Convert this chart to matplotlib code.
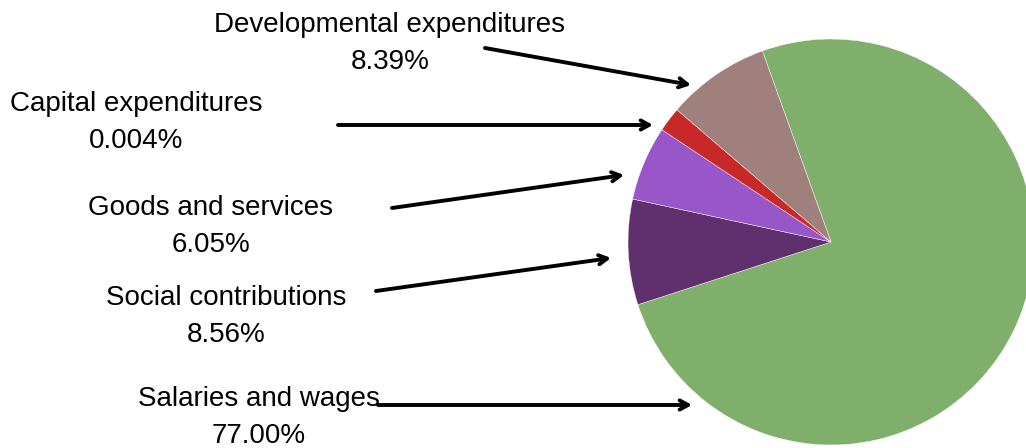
import matplotlib
matplotlib.use("Agg")
import matplotlib.pyplot as plt

# expenditure categories (clockwise from the top of the green slice)
categories = ["Salaries and wages", "Social contributions", "Goods and services",
              "Capital expenditures", "Developmental expenditures"]
pct_labels = ["77.00%", "8.56%", "6.05%", "0.004%", "8.39%"]
# slice sizes as drawn in the chart (capital slice is drawn bigger than its label)
shares = [77.00, 8.56, 6.05, 2.0, 8.39]
colors = ["#80AF6C", "#60306E", "#9856C8", "#C82828", "#A0807C"]

# label placement (pixel coords, y from top): text centre x, baseline of first line
label_pos = [(259, 406), (226, 305), (211, 215), (136, 111), (390, 32)]
arrow_tail = [(378, 405), (376, 291), (392, 208), (338, 125), (485, 48)]
arrow_head = [(692, 405), (611, 258), (624, 175), (653, 125), (691, 85)]

W, H = 1026, 448
plt.rcParams['font.family'] = ['Liberation Sans', 'DejaVu Sans']

fig = plt.figure(figsize=(W / 100, H / 100), dpi=100)
ax = fig.add_axes([0, 0, 1, 1])

ax.pie(shares, colors=colors, center=(831, H - 242), radius=203,
       startangle=109.75, counterclock=False,
       wedgeprops=dict(edgecolor="white", linewidth=0.3))

for i in range(len(categories)):
    x, y = label_pos[i]
    ax.text(x, H - y, categories[i], ha="center", va="baseline", fontsize=20)
    ax.text(x, H - y - 37, pct_labels[i], ha="center", va="baseline", fontsize=20)
    tx, ty = arrow_tail[i]
    hx, hy = arrow_head[i]
    ax.annotate("", xy=(hx, H - hy), xytext=(tx, H - ty),
                arrowprops=dict(arrowstyle="->,head_length=0.6,head_width=0.33",
                                color="black", lw=2.8, shrinkA=0, shrinkB=0))

ax.set_xlim(0, W)
ax.set_ylim(0, H)
ax.set_aspect("equal")
ax.axis("off")

fig.savefig("out.png", dpi=100)
